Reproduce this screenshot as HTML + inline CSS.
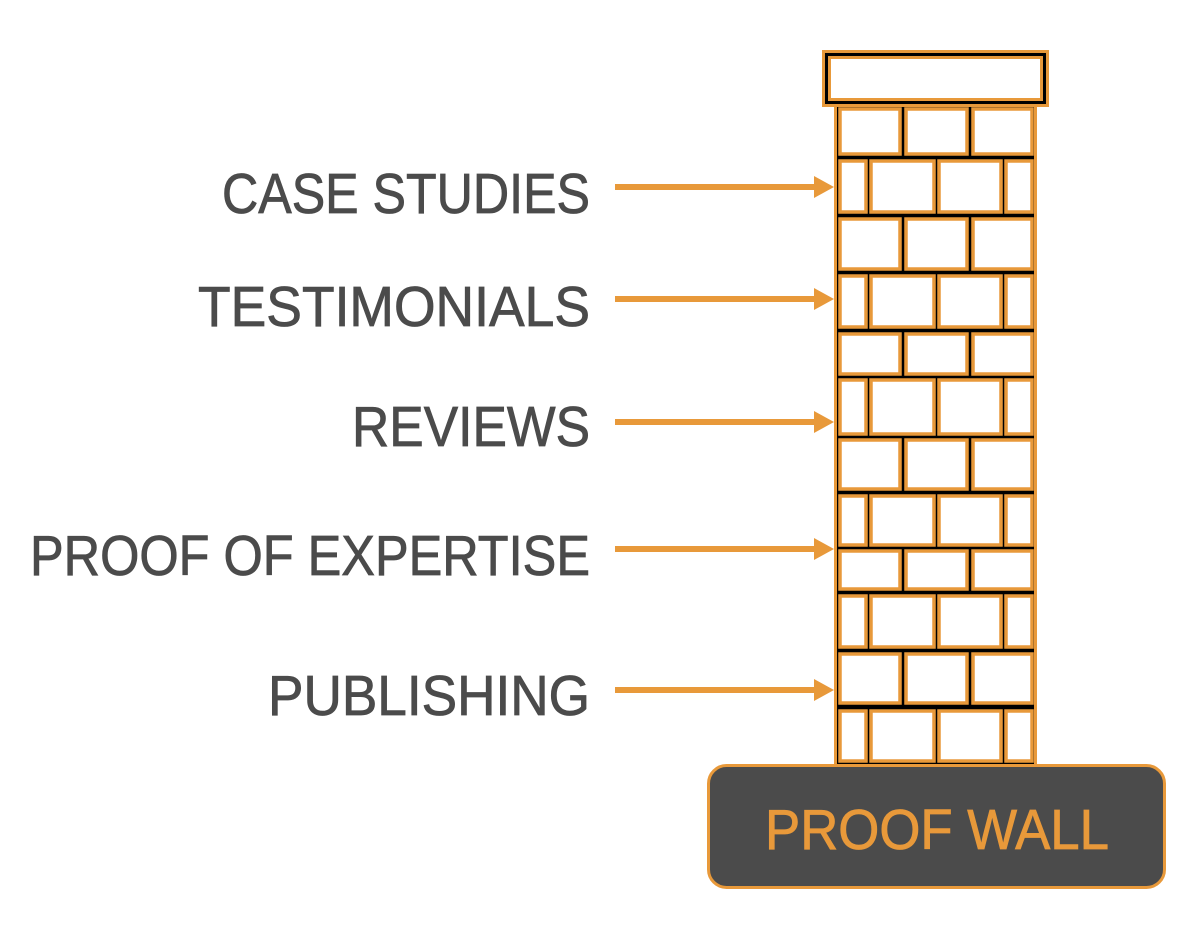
<!DOCTYPE html>
<html><head><style>html,body{margin:0;padding:0;background:#fff;width:1200px;height:936px;overflow:hidden}</style></head>
<body>
<svg width="1200" height="936" viewBox="0 0 1200 936" xmlns="http://www.w3.org/2000/svg">
<g font-family="Liberation Sans, sans-serif" font-size="57" fill="#4b4b4b" stroke="#4b4b4b" stroke-width="0.8">
<text x="222" y="213" textLength="368" lengthAdjust="spacingAndGlyphs">CASE STUDIES</text>
<text x="198" y="326" textLength="392" lengthAdjust="spacingAndGlyphs">TESTIMONIALS</text>
<text x="352" y="446" textLength="238" lengthAdjust="spacingAndGlyphs">REVIEWS</text>
<text x="30" y="575" textLength="560" lengthAdjust="spacingAndGlyphs">PROOF OF EXPERTISE</text>
<text x="268" y="715" textLength="322" lengthAdjust="spacingAndGlyphs">PUBLISHING</text>
</g>
<g stroke="#E8993A" stroke-width="6" fill="#E8993A">
<line x1="615" y1="187" x2="820" y2="187"/><polygon stroke="none" points="814,176 834,187 814,198"/>
<line x1="615" y1="299" x2="820" y2="299"/><polygon stroke="none" points="814,288 834,299 814,310"/>
<line x1="615" y1="422" x2="820" y2="422"/><polygon stroke="none" points="814,411 834,422 814,433"/>
<line x1="615" y1="549" x2="820" y2="549"/><polygon stroke="none" points="814,538 834,549 814,560"/>
<line x1="615" y1="690" x2="820" y2="690"/><polygon stroke="none" points="814,679 834,690 814,701"/>
</g>
<rect x="834" y="104" width="203" height="662" fill="#E8993A"/>
<rect x="837" y="104" width="197" height="660" fill="#000"/>
<g fill="#fff" stroke="#E8993A" stroke-width="3.5">
<rect x="840" y="109" width="60" height="45"/><rect x="906" y="109" width="61" height="45"/><rect x="973" y="109" width="59" height="45"/>
<rect x="840" y="161" width="26" height="51"/><rect x="871" y="161" width="63" height="51"/><rect x="939" y="161" width="62" height="51"/><rect x="1006" y="161" width="26" height="51"/>
<rect x="840" y="219" width="60" height="50"/><rect x="906" y="219" width="61" height="50"/><rect x="973" y="219" width="59" height="50"/>
<rect x="840" y="276" width="26" height="51"/><rect x="871" y="276" width="63" height="51"/><rect x="939" y="276" width="62" height="51"/><rect x="1006" y="276" width="26" height="51"/>
<rect x="840" y="334" width="60" height="40"/><rect x="906" y="334" width="61" height="40"/><rect x="973" y="334" width="59" height="40"/>
<rect x="840" y="380" width="26" height="54"/><rect x="871" y="380" width="63" height="54"/><rect x="939" y="380" width="62" height="54"/><rect x="1006" y="380" width="26" height="54"/>
<rect x="840" y="440" width="60" height="49"/><rect x="906" y="440" width="61" height="49"/><rect x="973" y="440" width="59" height="49"/>
<rect x="840" y="496" width="26" height="49"/><rect x="871" y="496" width="63" height="49"/><rect x="939" y="496" width="62" height="49"/><rect x="1006" y="496" width="26" height="49"/>
<rect x="840" y="551" width="60" height="38"/><rect x="906" y="551" width="61" height="38"/><rect x="973" y="551" width="59" height="38"/>
<rect x="840" y="596" width="26" height="51"/><rect x="871" y="596" width="63" height="51"/><rect x="939" y="596" width="62" height="51"/><rect x="1006" y="596" width="26" height="51"/>
<rect x="840" y="654" width="60" height="49"/><rect x="906" y="654" width="61" height="49"/><rect x="973" y="654" width="59" height="49"/>
<rect x="840" y="711" width="26" height="50"/><rect x="871" y="711" width="63" height="50"/><rect x="939" y="711" width="62" height="50"/><rect x="1006" y="711" width="26" height="50"/>
</g>
<rect x="822" y="50" width="227" height="57" fill="#E8993A"/>
<rect x="825" y="53" width="221" height="51" fill="#000"/>
<rect x="829.5" y="57.5" width="212" height="42" fill="#fff" stroke="#E8993A" stroke-width="3"/>
<rect x="708.5" y="765.5" width="456" height="122" rx="18" fill="#4b4b4b" stroke="#E8993A" stroke-width="3"/>
<text x="765" y="849" font-family="Liberation Sans, sans-serif" font-size="57" fill="#E8993A" stroke="#E8993A" stroke-width="0.8" textLength="344" lengthAdjust="spacingAndGlyphs">PROOF WALL</text>
</svg>
</body></html>
